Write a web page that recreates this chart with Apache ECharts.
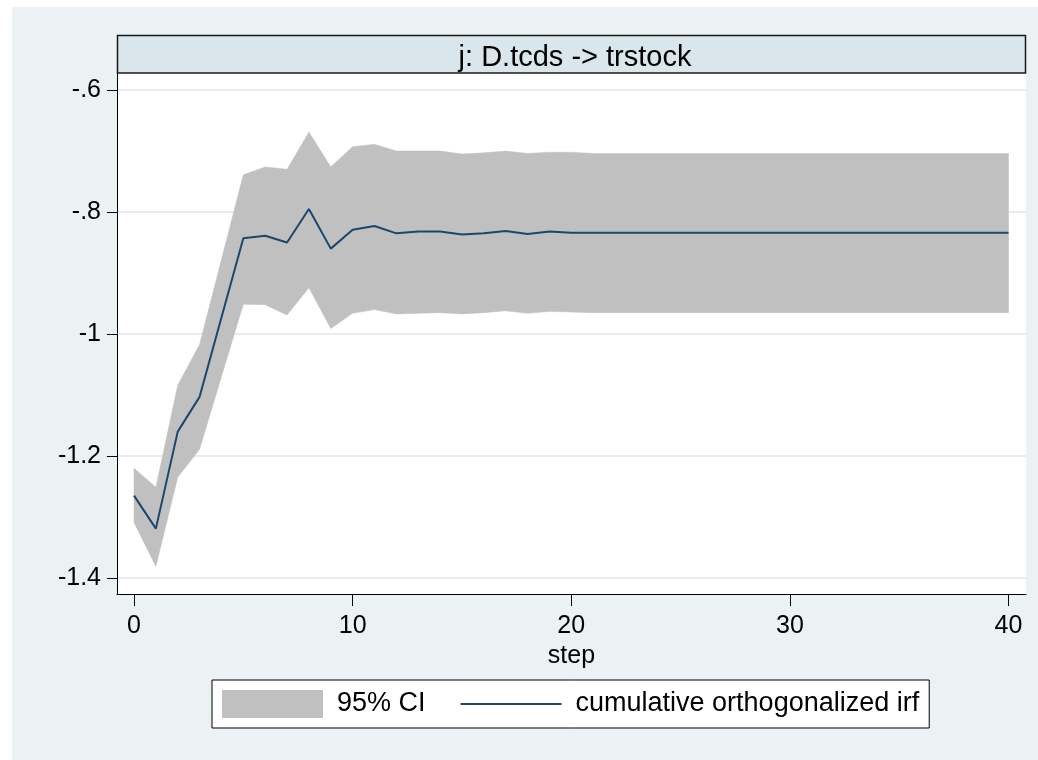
<!DOCTYPE html>
<html>
<head>
<meta charset="utf-8">
<script src="https://cdn.jsdelivr.net/npm/echarts@6/dist/echarts.min.js"></script>
<style>
html,body{margin:0;padding:0;background:#fff;}
#chart{width:1038px;height:760px;}
</style>
</head>
<body>
<div id="chart"></div>
<script>
// ---- data ----
const panelTitle = 'j: D.tcds -> trstock';
const steps = [0,1,2,3,4,5,6,7,8,9,10,11,12,13,14,15,16,17,18,19,20,21,22,23,24,25,26,27,28,29,30,31,32,33,34,35,36,37,38,39,40];
const irf = [-1.265,-1.319,-1.160,-1.103,-0.973,-0.843,-0.839,-0.850,-0.795,-0.860,
             -0.829,-0.823,-0.835,-0.832,-0.832,-0.837,-0.835,-0.831,-0.836,-0.832,
             -0.834,-0.834,-0.834,-0.834,-0.834,-0.834,-0.834,-0.834,-0.834,-0.834,
             -0.834,-0.834,-0.834,-0.834,-0.834,-0.834,-0.834,-0.834,-0.834,-0.834,-0.834];
const ciUpper = [-1.220,-1.251,-1.084,-1.017,-0.878,-0.739,-0.726,-0.730,-0.669,-0.726,
                 -0.693,-0.689,-0.700,-0.700,-0.700,-0.705,-0.703,-0.700,-0.704,-0.702,
                 -0.702,-0.704,-0.704,-0.704,-0.704,-0.704,-0.704,-0.704,-0.704,-0.704,
                 -0.704,-0.704,-0.704,-0.704,-0.704,-0.704,-0.704,-0.704,-0.704,-0.704,-0.704];
const ciLower = [-1.309,-1.381,-1.235,-1.189,-1.070,-0.951,-0.952,-0.969,-0.924,-0.991,
                 -0.966,-0.960,-0.967,-0.966,-0.965,-0.967,-0.965,-0.962,-0.966,-0.963,
                 -0.964,-0.965,-0.965,-0.965,-0.965,-0.965,-0.965,-0.965,-0.965,-0.965,
                 -0.965,-0.965,-0.965,-0.965,-0.965,-0.965,-0.965,-0.965,-0.965,-0.965,-0.965];
const xTicks = [0,10,20,30,40];
const yTicks = [-1.4,-1.2,-1,-0.8,-0.6];
const yTickLabels = {'-1.4':'-1.4','-1.2':'-1.2','-1':'-1','-0.8':'-.8','-0.6':'-.6'};
const ciName = '95% CI';
const lineName = 'cumulative orthogonalized irf';

// ---- derived ----
const bandRows = steps.map((s,i)=>[s, ciLower[i], ciUpper[i]]);
const irfPairs = steps.map((s,i)=>[s, irf[i]]);

const FONT = 'Liberation Sans, Arial, sans-serif';
const chart = echarts.init(document.getElementById('chart'), null, {renderer:'canvas'});

function renderBand(params, api){
  if (params.dataIndex !== 0) return null;
  const top = [], bot = [];
  for (let i = 0; i < bandRows.length; i++){
    top.push(api.coord([bandRows[i][0], bandRows[i][2]]));
    bot.push(api.coord([bandRows[i][0], bandRows[i][1]]));
  }
  const pts = top.concat(bot.reverse());
  return {
    type:'polygon',
    shape:{points:pts},
    style:{fill:'#C0C0C0', stroke:'#C0C0C0', lineWidth:0.5}
  };
}

const option = {
  backgroundColor:'#ffffff',
  animation:false,
  graphic:[
    {type:'rect', z:-10, silent:true, shape:{x:12,y:7,width:1026,height:753}, style:{fill:'#EAF2F3'}},
    {type:'rect', z:10, silent:true, shape:{x:117.5,y:35.5,width:908,height:37.5}, style:{fill:'#D9E6EB', stroke:'#1a1a1a', lineWidth:1.5}}
  ],
  title:{
    text: panelTitle, left:570, top:38, textAlign:'center', z:20,
    textStyle:{fontFamily:FONT, fontSize:29, fontWeight:'normal', color:'#000'}
  },
  grid:{left:117, right:12, top:73, bottom:166, show:true, backgroundColor:'#ffffff', borderWidth:0, containLabel:false},
  xAxis:{
    type:'value', min:-0.778, max:40.8,
    name:'step', nameLocation:'middle', nameGap:44,
    nameTextStyle:{fontFamily:FONT, fontSize:25, color:'#000'},
    axisLine:{show:true, onZero:false, lineStyle:{color:'#000', width:1}},
    axisTick:{show:true, length:12, customValues:xTicks, lineStyle:{color:'#000'}},
    axisLabel:{customValues:xTicks, margin:20, fontFamily:FONT, fontSize:25, color:'#000'},
    splitLine:{show:false}
  },
  yAxis:{
    type:'value', min:-1.4262, max:-0.5721,
    axisLine:{show:true, onZero:false, lineStyle:{color:'#000', width:1}},
    axisTick:{show:true, length:10, customValues:yTicks, lineStyle:{color:'#000'}},
    axisLabel:{customValues:yTicks, margin:16, fontFamily:FONT, fontSize:25, color:'#000',
      formatter:(v)=> yTickLabels[String(+v.toFixed(1))] ?? String(v)},
    splitLine:{show:true, lineStyle:{color:'#E4EDF0', width:2}}
  },
  legend:{
    left:212, top:680,
    backgroundColor:'#fff', borderColor:'#000', borderWidth:1,
    padding:[10,10,10,10], itemGap:34, itemWidth:101, itemHeight:28,
    textStyle:{fontFamily:FONT, fontSize:27, color:'#000', padding:[0,0,0,9]},
    data:[
      {name:ciName, icon:'rect', itemStyle:{color:'#C0C0C0'}},
      {name:lineName, itemStyle:{opacity:0, color:'rgba(0,0,0,0)', borderWidth:0}, lineStyle:{color:'#1A476F', width:2, opacity:1}}
    ]
  },
  series:[
    {name:ciName, type:'custom', coordinateSystem:'cartesian2d', data:bandRows,
     encode:{x:0, y:[1,2]}, renderItem:renderBand, itemStyle:{color:'#C0C0C0'}, silent:true, z:1, clip:true},
    {name:lineName, type:'line', data:irfPairs, symbol:'none', showSymbol:false,
     lineStyle:{color:'#1A476F', width:2}, itemStyle:{color:'#1A476F'}, z:3}
  ]
};
chart.setOption(option);
</script>
</body>
</html>
